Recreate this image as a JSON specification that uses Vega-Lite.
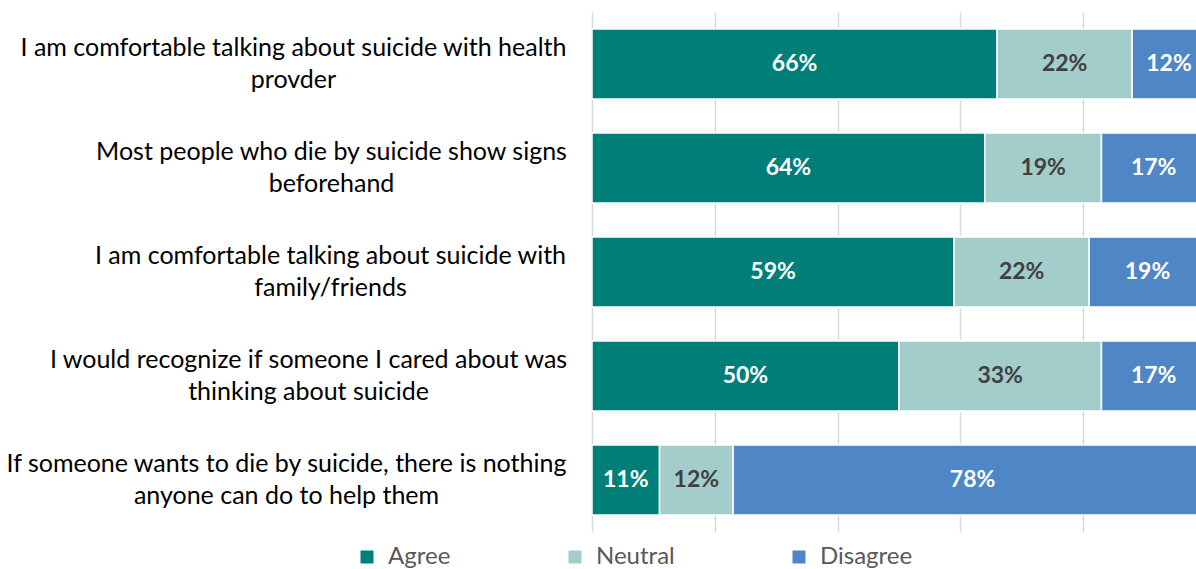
{
  "$schema": "https://vega.github.io/schema/vega-lite/v6.json",
  "width": 604,
  "height": 520,
  "autosize": {"type": "none"},
  "padding": {"left": 592, "top": 12, "right": 0, "bottom": 37},
  "background": "white",
  "config": {"view": {"stroke": null}, "font": "Lato"},
  "data": {
    "values": [
      {"q": "I am comfortable talking about suicide with health\nprovder", "response": "Agree", "order": 1, "pct": 0.66},
      {"q": "I am comfortable talking about suicide with health\nprovder", "response": "Neutral", "order": 2, "pct": 0.22},
      {"q": "I am comfortable talking about suicide with health\nprovder", "response": "Disagree", "order": 3, "pct": 0.12},
      {"q": "Most people who die by suicide show signs\nbeforehand", "response": "Agree", "order": 1, "pct": 0.64},
      {"q": "Most people who die by suicide show signs\nbeforehand", "response": "Neutral", "order": 2, "pct": 0.19},
      {"q": "Most people who die by suicide show signs\nbeforehand", "response": "Disagree", "order": 3, "pct": 0.17},
      {"q": "I am comfortable talking about suicide with\nfamily/friends", "response": "Agree", "order": 1, "pct": 0.59},
      {"q": "I am comfortable talking about suicide with\nfamily/friends", "response": "Neutral", "order": 2, "pct": 0.22},
      {"q": "I am comfortable talking about suicide with\nfamily/friends", "response": "Disagree", "order": 3, "pct": 0.19},
      {"q": "I would recognize if someone I cared about was\nthinking about suicide", "response": "Agree", "order": 1, "pct": 0.50},
      {"q": "I would recognize if someone I cared about was\nthinking about suicide", "response": "Neutral", "order": 2, "pct": 0.33},
      {"q": "I would recognize if someone I cared about was\nthinking about suicide", "response": "Disagree", "order": 3, "pct": 0.17},
      {"q": "If someone wants to die by suicide, there is nothing\nanyone can do to help them", "response": "Agree", "order": 1, "pct": 0.11},
      {"q": "If someone wants to die by suicide, there is nothing\nanyone can do to help them", "response": "Neutral", "order": 2, "pct": 0.12},
      {"q": "If someone wants to die by suicide, there is nothing\nanyone can do to help them", "response": "Disagree", "order": 3, "pct": 0.78}
    ]
  },
  "transform": [
    {"stack": "pct", "groupby": ["q"], "sort": [{"field": "order", "order": "ascending"}], "as": ["x0", "x1"]}
  ],
  "encoding": {
    "y": {
      "field": "q",
      "type": "nominal",
      "sort": null,
      "scale": {"paddingInner": 0.327, "paddingOuter": 0.1635},
      "axis": {
        "title": null,
        "domain": false,
        "ticks": false,
        "labelExpr": "split(datum.label, '\\n')",
        "labelFontSize": 25,
        "labelColor": "#000000",
        "labelLineHeight": 32,
        "labelOffset": -16,
        "labelLimit": 700,
        "labelAlign": "center",
        "labelPadding": {
          "condition": [
            {"test": "indexof(datum.value, 'health') >= 0", "value": 299},
            {"test": "indexof(datum.value, 'Most people') >= 0", "value": 261},
            {"test": "indexof(datum.value, 'family') >= 0", "value": 262},
            {"test": "indexof(datum.value, 'recognize') >= 0", "value": 284}
          ],
          "value": 306
        }
      }
    }
  },
  "layer": [
    {
      "mark": {"type": "bar", "clip": true, "stroke": "white", "strokeWidth": 1.5},
      "encoding": {
        "x": {
          "field": "x0",
          "type": "quantitative",
          "scale": {"domain": [0, 0.984], "nice": false, "zero": false},
          "axis": {
            "title": null,
            "labels": false,
            "ticks": false,
            "domain": false,
            "grid": true,
            "values": [0, 0.2, 0.4, 0.6, 0.8],
            "gridColor": "#d9d9d9",
            "gridWidth": 1.5
          }
        },
        "x2": {"field": "x1"},
        "color": {
          "field": "response",
          "type": "nominal",
          "scale": {"domain": ["Agree", "Neutral", "Disagree"], "range": ["#007F79", "#A2CDCA", "#4F86C6"]},
          "legend": {
            "title": null,
            "orient": "none",
            "direction": "horizontal",
            "legendX": -237,
            "legendY": 533,
            "symbolType": "square",
            "symbolSize": 169,
            "symbolStrokeWidth": 0,
            "labelFontSize": 24,
            "labelColor": "#595959",
            "labelOffset": 9,
            "columnPadding": 112
          }
        }
      }
    },
    {
      "transform": [
        {"fold": ["x0", "x1"], "as": ["edge", "pos"]}
      ],
      "mark": {"type": "text", "fontWeight": "bold", "fontSize": 23},
      "encoding": {
        "x": {"aggregate": "mean", "field": "pos", "type": "quantitative"},
        "detail": {"field": "response"},
        "text": {"field": "pct", "type": "quantitative", "format": ".0%"},
        "color": {
          "condition": {"test": "datum.response == 'Neutral'", "value": "#404040"},
          "value": "#ffffff"
        }
      }
    }
  ]
}
